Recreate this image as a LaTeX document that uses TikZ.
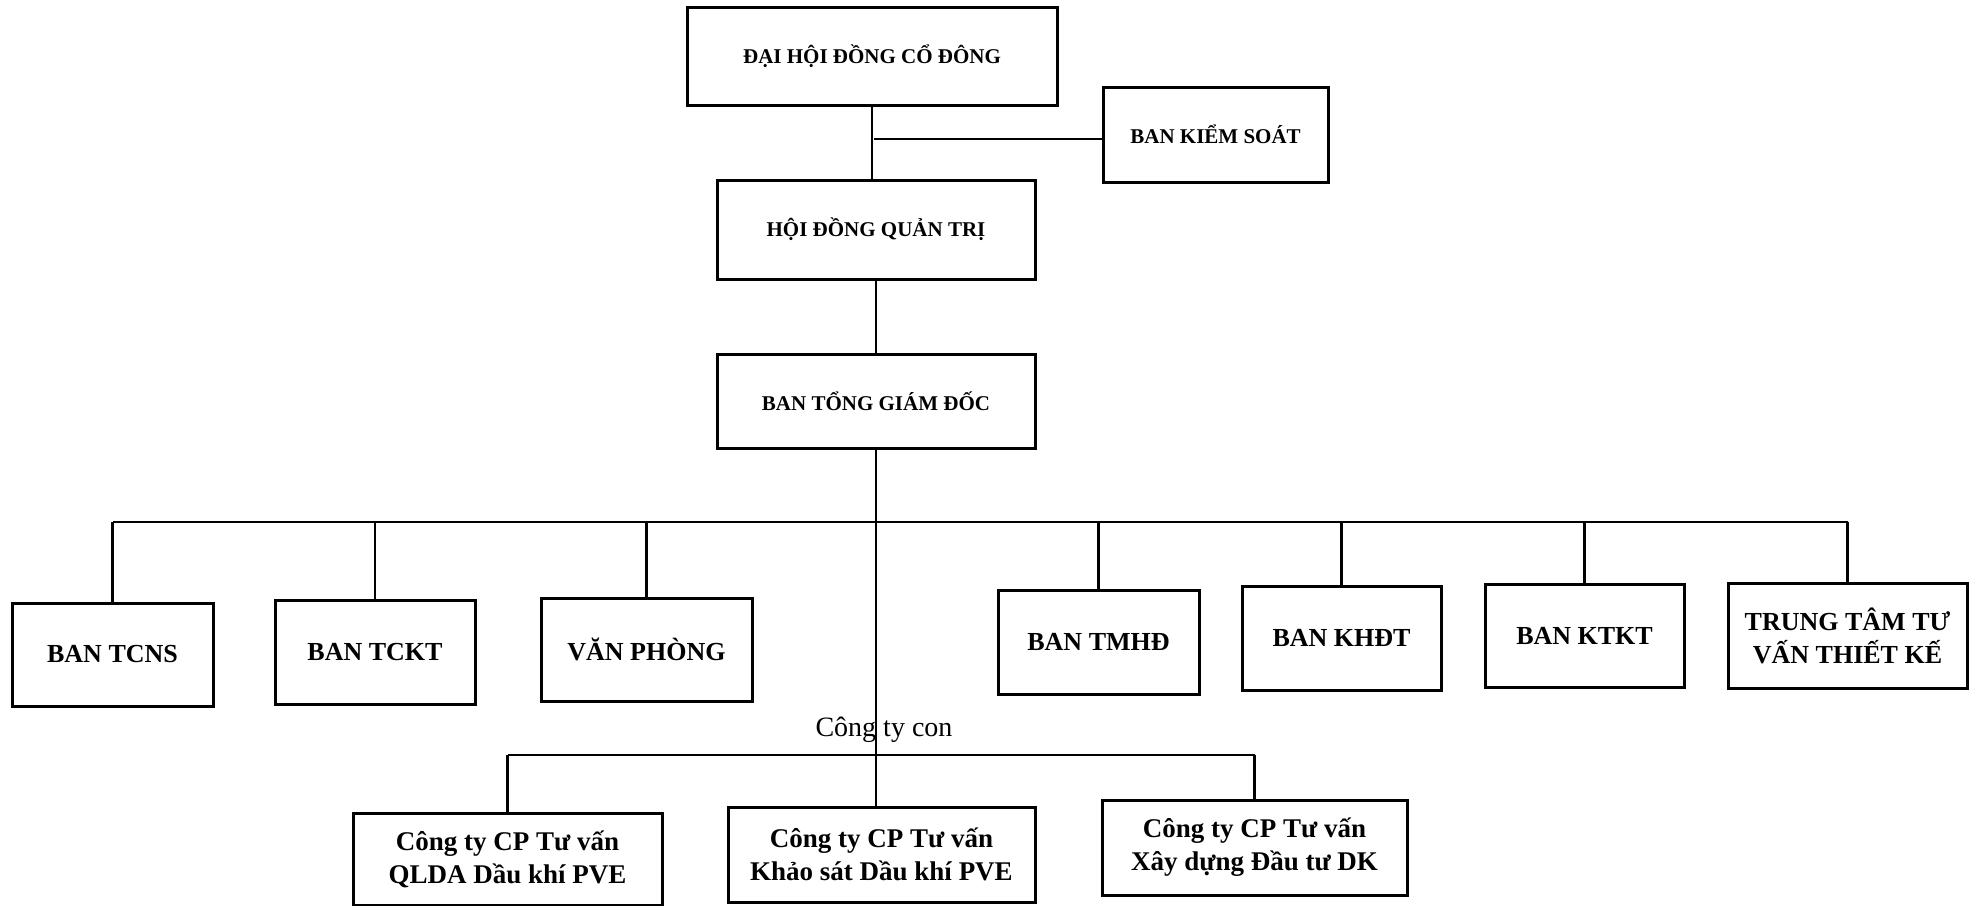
\documentclass[tikz,border=0pt]{standalone}
\usepackage{fontspec}
\setmainfont{Liberation Serif}
\begin{document}
\begin{tikzpicture}[x=1pt,y=-1pt,
  org/.style={draw=black, line width=3pt, fill=white, align=center, inner sep=0pt},
  topf/.style={font=\bfseries\fontsize{21}{25}\selectfont},
  midf/.style={font=\bfseries\fontsize{26}{33}\selectfont},
  subf/.style={font=\bfseries\fontsize{27}{33}\selectfont},
  conn/.style={draw=black, line width=2.4pt}]
\useasboundingbox[fill=white] (0,0) rectangle (1977,905);
% top levels
\node[org, topf, minimum width=370, minimum height=98] (dh) at (872,56) {ĐẠI HỘI ĐỒNG CỔ ĐÔNG};
\node[org, topf, minimum width=225, minimum height=95] (bks) at (1215.5,134.5) {BAN KIỂM SOÁT};
\node[org, topf, minimum width=318, minimum height=99] (hdqt) at (876,229.5) {HỘI ĐỒNG QUẢN TRỊ};
\node[org, topf, minimum width=318, minimum height=94] (btgd) at (876,401) {BAN TỔNG GIÁM ĐỐC};
% departments
\node[org, midf, minimum width=201, minimum height=103] (tcns) at (112.5,654.5) {BAN TCNS};
\node[org, midf, minimum width=200, minimum height=104] (tckt) at (375,652) {BAN TCKT};
\node[org, midf, minimum width=211, minimum height=103] (vp) at (646.5,649.5) {VĂN PHÒNG};
\node[org, midf, minimum width=201, minimum height=104] (tmhd) at (1098.5,642) {BAN TMHĐ};
\node[org, midf, minimum width=199, minimum height=104] (khdt) at (1341.5,638) {BAN KHĐT};
\node[org, midf, minimum width=199, minimum height=103] (ktkt) at (1584.5,635.5) {BAN KTKT};
\node[org, midf, minimum width=239, minimum height=105] (ttt) at (1847.5,635.5) {TRUNG TÂM TƯ\\VẤN THIẾT KẾ};
% subsidiaries
\node[org, subf, minimum width=309, minimum height=92] (s1) at (507.5,859) {Công ty CP Tư vấn\\QLDA Dầu khí PVE};
\node[org, subf, minimum width=307, minimum height=95] (s2) at (881.5,854.5) {Công ty CP Tư vấn\\Khảo sát Dầu khí PVE};
\node[org, subf, minimum width=305, minimum height=95] (s3) at (1254.5,847.5) {Công ty CP Tư vấn\\Xây dựng Đầu tư DK};
\node[font=\fontsize{28}{32}\selectfont, inner sep=0pt] (lbl) at (884,730) {Công ty con};
% connectors
\coordinate (ks) at (874,139);
\coordinate (bus) at (876,522);
\coordinate (sbus) at (880,755);
\draw[conn] (dh.south) -- (dh.south |- hdqt.north);
\draw[conn] (ks) -- (bks.west |- ks);
\draw[conn] (hdqt.south) -- (btgd.north);
\draw[conn] (btgd.south) -- (btgd.south |- s2.north);
\draw[conn] (tcns.north |- bus) -- (ttt.north |- bus);
\foreach \n in {tcns,tckt,vp,tmhd,khdt,ktkt,ttt} {\draw[conn] (\n.north) -- (\n.north |- bus);}
\draw[conn] (s1.north |- sbus) -- (s3.north |- sbus);
\foreach \n in {s1,s3} {\draw[conn] (\n.north) -- (\n.north |- sbus);}
\end{tikzpicture}
\end{document}
